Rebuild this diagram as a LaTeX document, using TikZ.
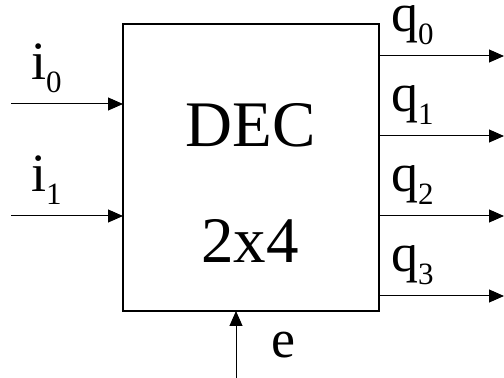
\documentclass[tikz,border=0pt]{standalone}
\usepackage{fontspec}
\setmainfont{Liberation Serif}
\usetikzlibrary{arrows.meta}
\newcommand\sublab[2]{#1\raisebox{-13pt}{\fontsize{31}{31}\selectfont #2}}
\tikzset{
  blk/.style={draw, line width=1.3pt, minimum width=256pt, minimum height=287pt, inner sep=0pt, outer sep=0pt},
  sig/.style={line width=1pt, -{Triangle[length=15pt,width=13pt]}},
  lbl/.style={anchor=base west, inner sep=0pt, font=\fontsize{54}{54}\selectfont},
  big/.style={anchor=base, inner sep=0pt, font=\fontsize{65}{65}\selectfont}
}
\begin{document}
\begin{tikzpicture}[x=1pt,y=1pt]
\useasboundingbox (0,0) rectangle (504,378);
\node[blk] (box) at (251,210.5) {};
\node[big] (dec) at (250.5,231) {DEC};
\node[big] (size) at (250,115) {2x4};
% inputs
\coordinate (in0) at (11,274);
\coordinate (in1) at (11,162);
\draw[sig] (in0) -- (box.west |- in0);
\draw[sig] (in1) -- (box.west |- in1);
\node[lbl] (li0) at (31,298) {\sublab{i}{0}};
\node[lbl] (li1) at (31,186) {\sublab{i}{1}};
% outputs
\coordinate (out0) at (504,322);
\coordinate (out1) at (504,242);
\coordinate (out2) at (504,162);
\coordinate (out3) at (504,82);
\draw[sig] (box.east |- out0) -- (out0);
\draw[sig] (box.east |- out1) -- (out1);
\draw[sig] (box.east |- out2) -- (out2);
\draw[sig] (box.east |- out3) -- (out3);
\node[lbl] (lq0) at (391,346) {\sublab{q}{0}};
\node[lbl] (lq1) at (391,266) {\sublab{q}{1}};
\node[lbl] (lq2) at (391,186) {\sublab{q}{2}};
\node[lbl] (lq3) at (391,106) {\sublab{q}{3}};
% enable
\coordinate (en) at (236,0);
\draw[sig] (en) -- (box.south -| en);
\node[lbl] (le) at (271,20) {e};
\end{tikzpicture}
\end{document}
